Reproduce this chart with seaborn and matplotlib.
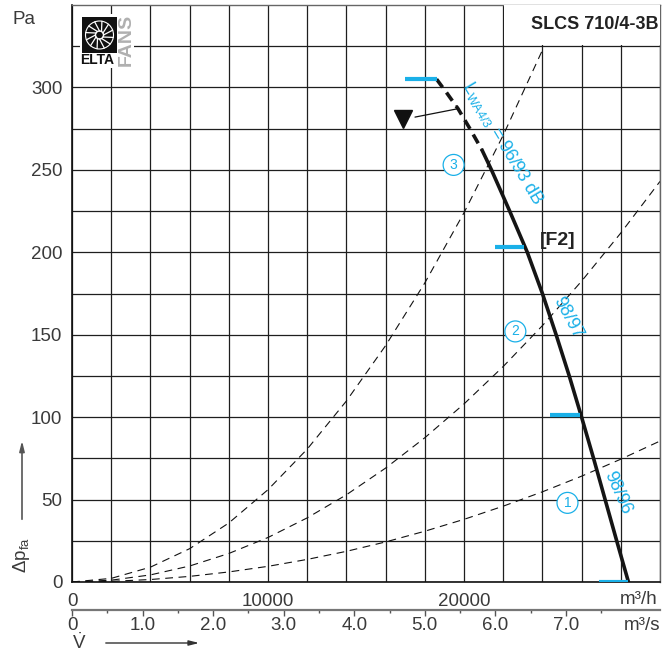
import matplotlib
matplotlib.use("Agg")
import matplotlib.pyplot as plt
import seaborn as sns
import numpy as np
import pandas as pd
from matplotlib.patches import Rectangle, Circle

# fan curve (m3/h, Pa); first points are the dashed, unstable part
fan_flow = [18600, 19100, 19700, 20300, 20920, 21400, 22330, 23230, 24000,
            24700, 25370, 26000, 26610, 27200, 27790, 28390]
fan_pa = [305, 297, 287, 275, 262, 250, 225, 200, 175, 150, 125, 100, 75, 50, 25, 0]
n_dashed = 5

# system curves
sys_flow = [0, 2000, 4000, 6000, 8000, 10000, 12000, 14000, 16000, 18000,
            20000, 22000, 24000, 26000, 28000, 30000]
sys1_pa = [0, 0.4, 1.5, 3.4, 6.1, 9.5, 13.7, 18.6, 24.3, 30.8, 38, 46, 54.7, 64.2, 74.5, 85.5]
sys2_pa = [0, 1.1, 4.3, 9.7, 17.3, 27, 38.9, 52.9, 69.1, 87.5, 108, 130.7, 155.5, 182.5, 211.7, 243]
sys3_pa = [0, 2.2, 9, 20.2, 35.8, 56, 80.6, 109.8, 143.4, 181.4, 224, 271, 322.6]
sys_names = ["1", "2", "3"]
sys_label_flow = [25280, 22620, 19470]
sys_label_pa = [48, 152, 253]

# operating point markers (blue dashes)
op_pa = [305, 203, 101, 0]
op_start = [17000, 21600, 24400, 26900]
op_end = [18600, 23080, 25900, 28350]

# sound level labels
snd_text = [r"$L_{\mathrm{WA4/3}}$ = 96/93 dB", "98/97", "98/96"]
snd_flow = [22000, 25300, 27850]
snd_pa = [266, 160, 54]
snd_rot = [-59, -62, -66]

flow_ticks = list(range(0, 30001, 2000))
flow_labels = ["0" if t == 0 else (str(t) if t in (10000, 20000) else "") for t in flow_ticks]
pa_ticks = list(range(0, 326, 25))
pa_labels = [str(t) if t % 50 == 0 else "" for t in pa_ticks]
ms_ticks = [0, 1, 2, 3, 4, 5, 6, 7]
ms_labels = ["0", "1.0", "2.0", "3.0", "4.0", "5.0", "6.0", "7.0"]

BLUE = "#1ab0e8"
GRAY = "#3a3a3a"
FS = 13.5

sns.set_style("white")
plt.rcParams["font.family"] = ["Liberation Sans", "DejaVu Sans"]
plt.rcParams["mathtext.fontset"] = "custom"
plt.rcParams["mathtext.rm"] = "Liberation Sans"
plt.rcParams["mathtext.it"] = "Liberation Sans"

fig = plt.figure(figsize=(6.64, 6.53), dpi=100)
ax = fig.add_axes([72 / 664, 71 / 653, 588 / 664, 577 / 653])

ax.set_xlim(0, 30000)
ax.set_ylim(0, 350)
ax.set_xticks(flow_ticks)
ax.set_xticklabels(flow_labels)
ax.set_yticks(pa_ticks)
ax.set_yticklabels(pa_labels)
ax.grid(True, color="#1e1e1e", linewidth=0.9)
ax.set_axisbelow(True)
ax.tick_params(axis="both", direction="out", length=4, width=0.9, color="#222",
               labelsize=FS, labelcolor=GRAY, pad=3)
ax.tick_params(axis="x", pad=4)
for side in ["left", "bottom"]:
    ax.spines[side].set_color("#111")
    ax.spines[side].set_linewidth(1.2)
for side in ["top", "right"]:
    ax.spines[side].set_color("#666")
    ax.spines[side].set_linewidth(1.0)

# system curves
sys_all = [sys1_pa, sys2_pa, sys3_pa]
for pa in sys_all:
    df = pd.DataFrame({"flow": sys_flow[:len(pa)], "pa": pa})
    sns.lineplot(data=df, x="flow", y="pa", ax=ax, color="#111", linewidth=0.8,
                 linestyle=(0, (7, 5)), sort=False, estimator=None)

for name, fx, fy in zip(sys_names, sys_label_flow, sys_label_pa):
    ax.text(fx, fy, name, color=BLUE, fontsize=10, ha="center", va="center",
            bbox=dict(boxstyle="circle,pad=0.25", fc="white", ec=BLUE, lw=0.9))

# fan curve
df_dash = pd.DataFrame({"flow": fan_flow[:n_dashed], "pa": fan_pa[:n_dashed]})
df_solid = pd.DataFrame({"flow": fan_flow[n_dashed - 1:], "pa": fan_pa[n_dashed - 1:]})
sns.lineplot(data=df_dash, x="flow", y="pa", ax=ax, color="#151515", linewidth=2.6,
             linestyle=(0, (2.8, 1.8)), sort=False, estimator=None)
sns.lineplot(data=df_solid, x="flow", y="pa", ax=ax, color="#151515", linewidth=2.6,
             sort=False, estimator=None)

for p, s, e in zip(op_pa, op_start, op_end):
    ax.plot([s, e], [p, p], color=BLUE, linewidth=3, solid_capstyle="butt", zorder=5)

for t, fx, fy, r in zip(snd_text, snd_flow, snd_pa, snd_rot):
    ax.text(fx, fy, t, color=BLUE, fontsize=13, rotation=r, ha="center", va="center",
            rotation_mode="anchor")

ax.text(24770, 207, "[F2]", fontsize=14, fontweight="bold", color="#222",
        ha="center", va="center")

# stall marker with leader line
ax.plot([16900], [281], marker="v", markersize=13, color="#111", linestyle="none")
ax.plot([17500, 19650, 19600], [282, 287, 289], color="#111", linewidth=0.9)

ax.set_xlabel("")
ax.set_ylabel("")

# title box
ax.add_patch(Rectangle((22050, 325.5), 7950, 24.5, facecolor="white", edgecolor="none",
                       zorder=6))
ax.text(29900, 338, "SLCS 710/4-3B", fontsize=13, fontweight="bold", color="#222",
        ha="right", va="center", zorder=7)

# m3/s axis
sec = ax.secondary_xaxis(-0.0485, functions=(lambda x: x / 3600, lambda x: x * 3600))
sec.set_xticks(ms_ticks)
sec.set_xticklabels(ms_labels)
sec.set_xticks([0.5 + i for i in range(8)], minor=True)
sec.spines["bottom"].set_color("#777")
sec.spines["bottom"].set_linewidth(1.6)
sec.tick_params(axis="x", which="major", direction="out", length=4, width=1, color="#555",
                labelsize=FS, labelcolor=GRAY, pad=1)
sec.tick_params(axis="x", which="minor", direction="out", length=2.5, width=1, color="#555")

fig.text(658 / 664, 1 - 599 / 653, "m³/h", fontsize=FS, color=GRAY, ha="right", va="center")
fig.text(660 / 664, 1 - 625 / 653, "m³/s", fontsize=FS, color=GRAY, ha="right", va="center")
fig.text(24 / 664, 1 - 19 / 653, "Pa", fontsize=FS, color=GRAY, ha="center", va="center")

fig.text(21 / 664, 1 - 555 / 653, r"$\mathrm{\Delta p_{fa}}$", fontsize=FS, color=GRAY,
         rotation=90, ha="center", va="center")
ax.annotate("", xy=(22, 653 - 438), xytext=(22, 653 - 522), xycoords="figure pixels",
            textcoords="figure pixels",
            arrowprops=dict(arrowstyle="-|>,head_length=0.6,head_width=0.15",
                            color="#555", lw=1.2))
fig.text(79 / 664, 1 - 643 / 653, r"$\dot{\mathrm{V}}$", fontsize=FS, color=GRAY,
         ha="center", va="center")
ax.annotate("", xy=(202, 653 - 643), xytext=(103, 653 - 643), xycoords="figure pixels",
            textcoords="figure pixels",
            arrowprops=dict(arrowstyle="-|>,head_length=0.6,head_width=0.15",
                            color="#333", lw=1.0))

# logo
lg = fig.add_axes([80 / 664, 1 - 68 / 653, 54 / 664, 54 / 653])
lg.set_xlim(0, 54)
lg.set_ylim(0, 54)
lg.axis("off")
lg.add_patch(Rectangle((0, 0), 54, 54, facecolor="white", edgecolor="none"))
lg.add_patch(Rectangle((2, 15), 35, 36, facecolor="#111", edgecolor="none"))
cx, cy = 19.5, 33
lg.add_patch(Circle((cx, cy), 14, facecolor="none", edgecolor="white", lw=0.8))
lg.add_patch(Circle((cx, cy), 4, facecolor="none", edgecolor="white", lw=1.0))
for a in np.deg2rad(np.arange(0, 360, 30)):
    lg.plot([cx + 4 * np.cos(a), cx + 14 * np.cos(a + 0.35)],
            [cy + 4 * np.sin(a), cy + 14 * np.sin(a + 0.35)], color="white", lw=0.9)
lg.text(17, 7.5, "ELTA", fontsize=10, fontweight="bold", color="#111",
        ha="center", va="center")
lg.text(46, 28, "FANS", fontsize=14, fontweight="bold", color="#b0b0b0",
        rotation=90, ha="center", va="center")

fig.savefig("out.png", dpi=100)
